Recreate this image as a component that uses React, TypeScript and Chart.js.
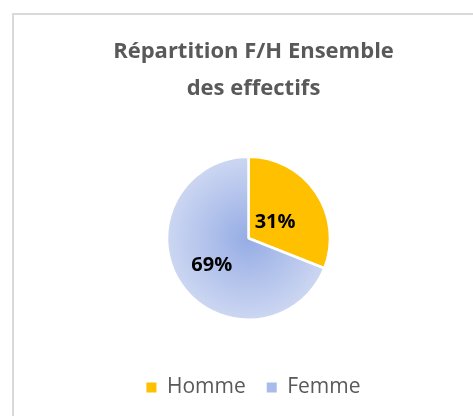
import React, { useEffect, useRef } from "react";
import { Chart, registerables } from "chart.js";

Chart.register(...registerables);

const TITLE_LINES = ["Répartition F/H Ensemble", "des effectifs"];
const CATEGORIES = ["Homme", "Femme"];
const VALUES = [31, 69];
const LABELS = ["31%", "69%"];

const GOLD = "#FFC000";
const BLUE_LEGEND = "#A9BBEA";
const BLUE_IN = "#95ACE4";
const BLUE_OUT = "#CDD7F2";
const LABEL_RADIUS_FRAC = [0.38, 0.56];
const TEXT_SHIFT_X = 5;

const pieLabels = {
  id: "pieLabels",
  afterLayout(chart: any) {
    // title and legend sit slightly right of the pie centre in the reference
    const boxes = [chart.titleBlock, chart.legend];
    boxes.forEach((b: any) => {
      if (b) {
        b.left += TEXT_SHIFT_X;
        b.right += TEXT_SHIFT_X;
      }
    });
  },
  afterDatasetsDraw(chart: any) {
    const ctx = chart.ctx;
    const meta = chart.getDatasetMeta(0);
    ctx.save();
    ctx.font = "bold 20px 'Open Sans'";
    ctx.fillStyle = "#000000";
    ctx.textAlign = "center";
    ctx.textBaseline = "middle";
    meta.data.forEach((arc: any, i: number) => {
      const p = arc.getProps(["x", "y", "startAngle", "endAngle", "outerRadius"], true);
      const mid = (p.startAngle + p.endAngle) / 2;
      const r = p.outerRadius * LABEL_RADIUS_FRAC[i];
      ctx.fillText(LABELS[i], p.x + Math.cos(mid) * r + 1, p.y + Math.sin(mid) * r + 1.5);
    });
    ctx.restore();
  },
};

export default function App() {
  const ref = useRef<HTMLCanvasElement | null>(null);
  useEffect(() => {
    if (!ref.current) return;
    const chart = new Chart(ref.current, {
      type: "pie",
      data: {
        labels: CATEGORIES,
        datasets: [
          {
            data: VALUES,
            backgroundColor: (c: any) => {
              if (c.dataIndex === 0) return GOLD;
              const ca = c.chart.chartArea;
              if (!ca) return BLUE_LEGEND;
              const cx = (ca.left + ca.right) / 2;
              const cy = (ca.top + ca.bottom) / 2;
              const g = c.chart.ctx.createRadialGradient(cx, cy, 0, cx, cy, 82);
              g.addColorStop(0, BLUE_IN);
              g.addColorStop(1, BLUE_OUT);
              return g;
            },
            borderColor: "#FFFFFF",
            borderWidth: 2.5,
            radius: 81.5,
          } as any,
        ],
      },
      options: {
        responsive: false,
        animation: false,
        layout: { padding: { left: 24, right: 0, top: 0, bottom: 8 } },
        plugins: {
          title: {
            display: true,
            text: TITLE_LINES,
            color: "#595959",
            font: { family: "'Open Sans'", size: 22, weight: "bold", lineHeight: "37px" as any },
            padding: { top: 33, bottom: 13.5 },
          },
          legend: {
            display: true,
            position: "bottom",
            labels: {
              color: "#595959",
              font: { family: "'Open Sans'", size: 21 },
              boxWidth: 10,
              boxHeight: 10,
              padding: 21,
              generateLabels: () =>
                CATEGORIES.map((t, i) => ({
                  text: t,
                  fillStyle: i === 0 ? GOLD : BLUE_LEGEND,
                  strokeStyle: i === 0 ? GOLD : BLUE_LEGEND,
                  lineWidth: 0,
                  hidden: false,
                  index: i,
                  fontColor: "#595959",
                })),
            },
          },
          tooltip: { enabled: false },
        },
      },
      plugins: [pieLabels],
    });
    return () => chart.destroy();
  }, []);

  return (
    <div style={{ position: "fixed", left: 0, top: 0, width: 473, height: 416, background: "#FFFFFF", overflow: "hidden" }}>
      <div
        style={{
          position: "absolute",
          left: 12,
          top: 13,
          width: 600,
          height: 600,
          borderLeft: "2px solid #D9D9D9",
          borderTop: "2px solid #D9D9D9",
        }}
      />
      <canvas ref={ref} width={473} height={416} style={{ position: "absolute", left: 0, top: 0 }} />
    </div>
  );
}
